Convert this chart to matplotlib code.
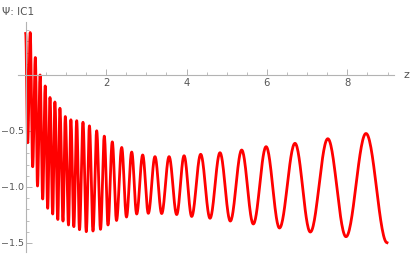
import numpy as np
import matplotlib
matplotlib.use("Agg")
import matplotlib.pyplot as plt
from matplotlib.ticker import MultipleLocator, FixedLocator

# Extrema (z, Psi)
peak_z = [0.000, 0.112, 0.239, 0.358, 0.485, 0.604, 0.726, 0.851, 0.985, 1.124,
          1.269, 1.425, 1.585, 1.766, 1.955, 2.154, 2.388, 2.637, 2.910, 3.216,
          3.567, 3.940, 4.353, 4.833, 5.373, 5.980, 6.699, 7.515, 8.465]
peak_psi = [0.371, 0.379, 0.156, 0.000, -0.098, -0.201, -0.241, -0.297, -0.371, -0.400,
            -0.408, -0.422, -0.454, -0.498, -0.546, -0.597, -0.647, -0.688, -0.714, -0.729,
            -0.729, -0.721, -0.708, -0.694, -0.670, -0.640, -0.610, -0.569, -0.522]
trough_z = [0.050, 0.174, 0.294, 0.423, 0.547, 0.672, 0.799, 0.928, 1.065, 1.197,
            1.338, 1.507, 1.674, 1.861, 2.047, 2.259, 2.507, 2.761, 3.050, 3.383,
            3.756, 4.129, 4.585, 5.090, 5.662, 6.313, 7.080, 7.968, 8.988]
trough_psi = [-0.605, -0.819, -0.991, -1.107, -1.190, -1.241, -1.290, -1.304, -1.339, -1.354,
              -1.381, -1.399, -1.393, -1.378, -1.339, -1.299, -1.268, -1.241, -1.235, -1.237,
              -1.246, -1.263, -1.279, -1.304, -1.330, -1.366, -1.402, -1.444, -1.497]

x_ticks = [2, 4, 6, 8]
y_ticks = [-1.5, -1.0, -0.5]
y_tick_labels = ["\u22121.5", "\u22121.0", "\u22120.5"]

# merge extrema in order and join with half-cosine segments
ez = np.array(peak_z + trough_z)
ep = np.array(peak_psi + trough_psi)
order = np.argsort(ez)
ez, ep = ez[order], ep[order]
zs, ps = [], []
for i in range(len(ez) - 1):
    t = np.linspace(0, 1, 30, endpoint=False)
    w = (1 - np.cos(np.pi * t)) / 2
    zs.append(ez[i] + (ez[i + 1] - ez[i]) * t)
    ps.append(ep[i] + (ep[i + 1] - ep[i]) * w)
zs.append([ez[-1]]); ps.append([ep[-1]])
z = np.concatenate(zs); psi = np.concatenate(ps)

W, H = 411, 256
fig = plt.figure(figsize=(W / 100, H / 100), dpi=100)
L, R, T, B = 18, 394, 22, 252
ax = fig.add_axes([L / W, (H - B) / H, (R - L) / W, (B - T) / H])
ax.set_xlim((L - 25.7) / 40.2, (R - 25.7) / 40.2)
ax.set_ylim((75 - B) / 112, (75 - T) / 112)

ax.plot(z, psi, color="#ff0000", lw=2.0, solid_joinstyle="round")

gray = "#b3b3b3"
for s in ["top", "right"]:
    ax.spines[s].set_visible(False)
ax.spines["left"].set_position(("data", 0))
ax.spines["bottom"].set_position(("data", 0))
ax.spines["left"].set_color(gray)
ax.spines["bottom"].set_color(gray)
ax.spines["left"].set_linewidth(0.8)
ax.spines["bottom"].set_linewidth(0.8)
ax.patch.set_visible(False)

ax.xaxis.set_major_locator(FixedLocator(x_ticks))
ax.xaxis.set_minor_locator(MultipleLocator(0.5))
ax.yaxis.set_major_locator(FixedLocator(y_ticks))
ax.yaxis.set_minor_locator(MultipleLocator(0.1))
ax.set_yticklabels(y_tick_labels)

ax.tick_params(axis="x", which="major", direction="in", length=4.5, width=0.7,
               color=gray, labelsize=7.2, labelcolor="#555555", pad=2)
ax.tick_params(axis="x", which="minor", direction="in", length=2.5, width=0.6, color=gray)
ax.tick_params(axis="y", which="major", direction="in", length=4.5, width=0.7,
               color=gray, labelsize=6.8, labelcolor="#555555", pad=1.5)
ax.tick_params(axis="y", which="minor", direction="in", length=2.5, width=0.6, color=gray)

fig.text(406 / W, 1 - 75 / H, "z", fontsize=8, color="#555555", ha="center", va="center")
fig.text(2 / W, 1 - 12 / H, "\u03a8: IC1", fontsize=7.5, color="#555555", ha="left", va="center")

fig.savefig("out.png", dpi=100)
